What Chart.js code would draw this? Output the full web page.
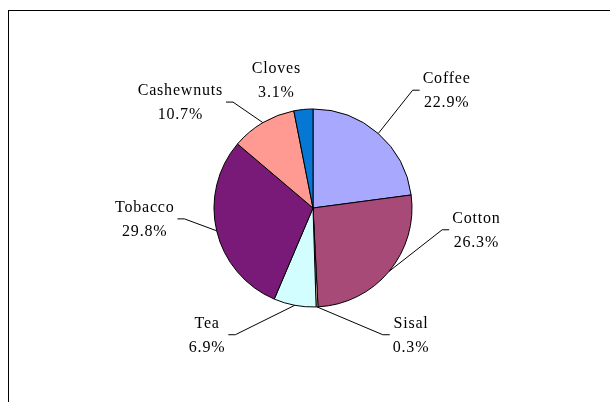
<!DOCTYPE html>
<html>
<head>
<meta charset="utf-8">
<script src="https://cdn.jsdelivr.net/npm/chart.js@4/dist/chart.umd.min.js"></script>
<style>
  html, body { margin: 0; padding: 0; background: #fff; }
  #wrap { position: relative; width: 610px; height: 402px; }
  #frame { position: absolute; left: 8px; top: 10px; right: 0; bottom: 0; border-left: 1px solid #000; border-top: 1px solid #000; pointer-events: none; }
  canvas { position: absolute; left: 0; top: 0; }
</style>
</head>
<body>
<div id="wrap">
  <canvas id="chart" width="610" height="402"></canvas>
  <div id="frame"></div>
</div>
<script>
// export crop shares, percent
const crops = ['Coffee', 'Cotton', 'Sisal', 'Tea', 'Tobacco', 'Cashewnuts', 'Cloves']
const shares = [22.9, 26.3, 0.3, 6.9, 29.8, 10.7, 3.1]
const sliceColors = ['#A8A8FF', '#A84A78', '#FFFFCC', '#D2FEFF', '#7A1A78', '#FF9A92', '#0677D4']

// label centre, relative to pie centre in units of the radius (hand placed like the original)
const labelSpots = [
  [1.35, -1.19], [1.65, 0.22], [0.99, 1.28], [-1.07, 1.28],
  [-1.70, 0.11], [-1.34, -1.07], [-0.37, -1.29]
]
const withLeader = [true, true, true, true, true, true, false]

const calloutPlugin = {
  id: 'callouts',
  afterDatasetsDraw (chart) {
    const ctx = chart.ctx
    const arcs = chart.getDatasetMeta(0).data
    ctx.save()
    ctx.font = '16px "Liberation Serif", "Times New Roman", serif'
    ctx.letterSpacing = '0.8px'
    ctx.fillStyle = '#000'
    ctx.strokeStyle = '#000'
    ctx.lineWidth = 1
    ctx.textAlign = 'center'
    ctx.textBaseline = 'middle'
    arcs.forEach((arc, i) => {
      const { x, y, startAngle, endAngle, outerRadius } = arc.getProps(['x', 'y', 'startAngle', 'endAngle', 'outerRadius'], true)
      const mid = (startAngle + endAngle) / 2
      const lx = x + labelSpots[i][0] * outerRadius
      const ly = y + labelSpots[i][1] * outerRadius
      const top = crops[i]
      const bottom = shares[i].toFixed(1) + '%'
      const w = Math.max(ctx.measureText(top).width, ctx.measureText(bottom).width)
      if (withLeader[i]) {
        const ex = x + Math.cos(mid) * outerRadius
        const ey = y + Math.sin(mid) * outerRadius
        const right = lx > x
        const endX = right ? lx - w / 2 - 3 : lx + w / 2 + 3
        const elbowX = right ? endX - 7 : endX + 7
        ctx.beginPath()
        ctx.moveTo(ex, ey)
        ctx.lineTo(elbowX, ly)
        ctx.lineTo(endX, ly)
        ctx.stroke()
      }
      ctx.fillText(top, lx, ly - 11)
      ctx.fillText(bottom, lx, ly + 13)
    })
    ctx.restore()
  }
}

new Chart(document.getElementById('chart'), {
  type: 'pie',
  data: {
    labels: crops,
    datasets: [{
      data: shares,
      backgroundColor: sliceColors,
      borderColor: '#000',
      borderWidth: 1,
      radius: 99
    }]
  },
  options: {
    responsive: false,
    animation: false,
    layout: { padding: { left: 16, right: 0, top: 14, bottom: 0 } },
    plugins: { legend: { display: false }, tooltip: { enabled: false } }
  },
  plugins: [calloutPlugin]
})
</script>
</body>
</html>
